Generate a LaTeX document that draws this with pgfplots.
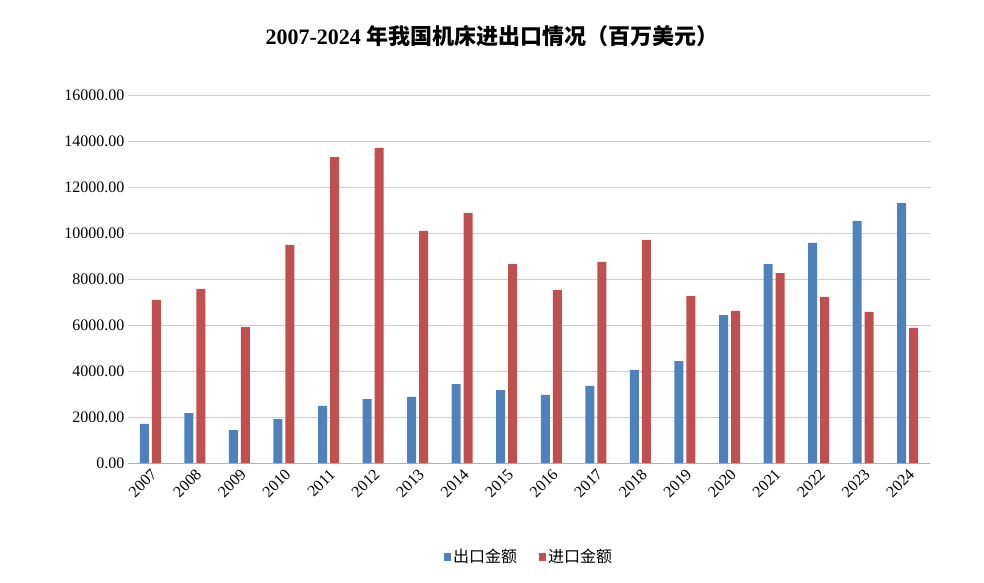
\documentclass[border=0pt]{standalone}
\usepackage{pgfplots}
\pgfplotsset{compat=1.18}
\usepackage{fontspec}
\setmainfont{Liberation Serif}
\newfontfamily\cjk{Noto Sans CJK SC}
\definecolor{cb}{HTML}{4F81BD}
\definecolor{cr}{HTML}{C0504D}
\begin{document}
\begin{tikzpicture}[x=1pt,y=1pt]
\useasboundingbox (0,0) rectangle (984,582);
\begin{axis}[at={(128pt,119pt)},anchor=south west,scale only axis,width=802pt,height=368pt,
 ymin=0,ymax=16000,ytick={0,2000,...,16000},scaled y ticks=false,
 yticklabel={\pgfmathprintnumber[fixed,fixed zerofill,precision=2,1000 sep={}]{\tick}},
 /pgf/number format/assume math mode=true,
 xmin=-0.5,xmax=17.5,xtick={0,...,17},
 xticklabels={2007,2008,2009,2010,2011,2012,2013,2014,2015,2016,2017,2018,2019,2020,2021,2022,2023,2024},
 xticklabel style={rotate=45,anchor=north east,font=\fontsize{16}{16}\selectfont},
 yticklabel style={font=\fontsize{16}{16}\selectfont},
 ymajorgrids,grid style={gray!40},
 axis line style={draw=none},axis x line*=bottom, x axis line style={draw=gray!60},
 major tick length=0pt,
 ybar=3pt,bar width=9pt,
 legend style={at={(0.5,-0.255)},anchor=center,draw=none,legend columns=2,font=\cjk\fontsize{16}{16}\selectfont,/tikz/every even column/.style={column sep=20pt}},
 legend image code/.code={\fill[#1] (0,-4pt) rectangle (7pt,4pt);},
]
\addplot[fill=cb,draw=none] coordinates {(0,1700)(1,2170)(2,1430)(3,1910)(4,2480)(5,2780)(6,2870)(7,3430)(8,3170)(9,2960)(10,3350)(11,4040)(12,4430)(13,6430)(14,8650)(15,9570)(16,10520)(17,11300)};
\addplot[fill=cr,draw=none] coordinates {(0,7090)(1,7570)(2,5910)(3,9480)(4,13300)(5,13700)(6,10090)(7,10870)(8,8650)(9,7520)(10,8740)(11,9700)(12,7260)(13,6610)(14,8260)(15,7220)(16,6570)(17,5870)};
\legend{出口金额,进口金额}
\end{axis}
\node[font=\fontsize{22}{22}\selectfont\bfseries] at (492,546) {2007-2024 {\cjk 年我国机床进出口情况（百万美元）}};
\end{tikzpicture}
\end{document}
